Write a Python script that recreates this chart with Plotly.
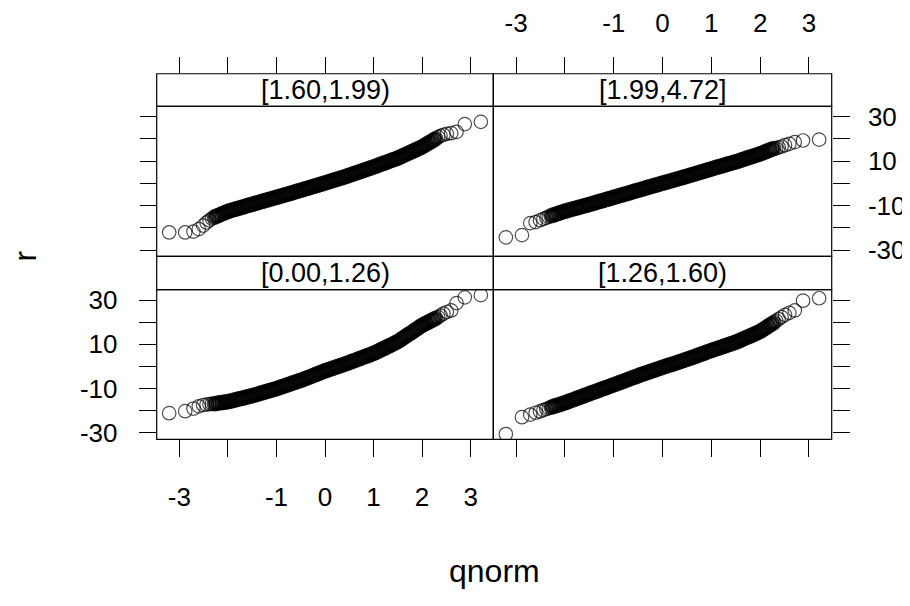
import plotly.graph_objects as go

# ---------------- data ----------------
# theoretical normal quantiles (shared by all four panels)
qnorm = [-3.21, -2.88, -2.71, -2.60, -2.51, -2.44, -2.38, -2.33,
         -2.28, -2.24, -2.2, -2.16, -2.12, -2.08, -2.04, -2.0, -1.96, -1.92, -1.88, -1.84, -1.8,
         -1.76, -1.72, -1.68, -1.64, -1.6, -1.56, -1.52, -1.48, -1.44, -1.4, -1.36, -1.32, -1.28,
         -1.24, -1.2, -1.16, -1.12, -1.08, -1.04, -1.0, -0.96, -0.92, -0.88, -0.84, -0.8, -0.76,
         -0.72, -0.68, -0.64, -0.6, -0.56, -0.52, -0.48, -0.44, -0.4, -0.36, -0.32, -0.28, -0.24,
         -0.2, -0.16, -0.12, -0.08, -0.04, 0.0, 0.04, 0.08, 0.12, 0.16, 0.2, 0.24, 0.28, 0.32,
         0.36, 0.4, 0.44, 0.48, 0.52, 0.56, 0.6, 0.64, 0.68, 0.72, 0.76, 0.8, 0.84, 0.88, 0.92,
         0.96, 1.0, 1.04, 1.08, 1.12, 1.16, 1.2, 1.24, 1.28, 1.32, 1.36, 1.4, 1.44, 1.48, 1.52,
         1.56, 1.6, 1.64, 1.68, 1.72, 1.76, 1.8, 1.84, 1.88, 1.92, 1.96, 2.0, 2.04, 2.08, 2.12,
         2.16, 2.2, 2.24, 2.28,
         2.33, 2.38, 2.44, 2.51, 2.60, 2.71, 2.88, 3.21]

strip_labels = ["[0.00,1.26)", "[1.26,1.60)", "[1.60,1.99)", "[1.99,4.72]"]

r_000_126 = [-21.1, -20.2, -19.0, -18.0, -17.4, -17.2, -17.0, -16.9,
             -16.8, -16.7, -16.5, -16.4, -16.3, -16.2, -16.0, -15.9,
             -15.7, -15.5, -15.3, -15.0, -14.8, -14.6, -14.4, -14.2, -14.0, -13.7, -13.5, -13.3,
             -13.1, -12.8, -12.6, -12.3, -12.0, -11.8, -11.5, -11.3, -11.0, -10.8, -10.5, -10.3, -10.0,
             -9.7, -9.4, -9.1, -8.8, -8.5, -8.2, -7.9, -7.6, -7.3, -7.0, -6.7, -6.4,
             -6.1, -5.8, -5.4, -5.1, -4.8, -4.4, -4.1, -3.7, -3.4, -3.0, -2.7, -2.3, -2.0,
             -1.7, -1.4, -1.1, -0.8, -0.5, -0.2, 0.1, 0.4, 0.7, 1.0, 1.3, 1.6,
             2.0, 2.3, 2.6, 2.9, 3.3, 3.6, 3.9, 4.3, 4.6, 4.9, 5.2, 5.6, 5.9,
             6.3, 6.7, 7.2, 7.6, 8.0, 8.4, 8.9, 9.3, 9.7, 10.1, 10.6, 11.0,
             11.5, 12.1, 12.7, 13.3, 13.9, 14.5, 15.0, 15.6, 16.2, 16.8, 17.4, 18.0, 18.6,
             19.0, 19.5, 19.9, 20.4, 20.8, 21.3, 21.7,
             22.3, 23.0, 23.9, 24.6, 25.3, 28.6, 31.2, 32.2]

r_126_160 = [-30.5, -22.9, -21.7, -20.9, -20.3, -19.7, -19.2, -18.8,
             -18.4, -18.1, -17.8, -17.5, -17.3, -17.0, -16.7, -16.4,
             -16.1, -15.7, -15.4, -15.1, -14.8, -14.4, -14.1, -13.8, -13.5, -13.1, -12.8, -12.5,
             -12.1, -11.8, -11.5, -11.2, -10.9, -10.5, -10.2, -9.9, -9.6, -9.3, -8.9, -8.6, -8.3,
             -8.0, -7.6, -7.3, -7.0, -6.7, -6.3, -6.0, -5.7, -5.3, -5.0, -4.7, -4.4,
             -4.0, -3.7, -3.4, -3.1, -2.8, -2.5, -2.2, -1.9, -1.6, -1.3, -1.0, -0.7, -0.4,
             -0.1, 0.2, 0.5, 0.8, 1.0, 1.3, 1.6, 1.9, 2.2, 2.5, 2.8, 3.1,
             3.4, 3.7, 4.0, 4.3, 4.6, 5.0, 5.3, 5.6, 5.9, 6.2, 6.6, 6.9, 7.2,
             7.5, 7.8, 8.1, 8.4, 8.7, 9.0, 9.3, 9.6, 9.9, 10.2, 10.5, 10.8,
             11.1, 11.5, 11.9, 12.3, 12.7, 13.1, 13.4, 13.8, 14.2, 14.6, 15.0, 15.4, 15.8,
             16.4, 16.9, 17.5, 18.1, 18.7, 19.2, 19.8,
             20.6, 21.4, 22.3, 23.3, 24.2, 25.3, 29.7, 30.8]

r_160_199 = [-22.1, -22.1, -21.7, -20.6, -19.0, -17.6, -16.6, -15.8,
             -15.2, -14.8, -14.5, -14.1, -13.7, -13.3, -13.0, -12.6,
             -12.3, -12.1, -11.8, -11.6, -11.3, -11.1, -10.8, -10.6, -10.3, -10.0, -9.8, -9.5,
             -9.3, -9.0, -8.8, -8.5, -8.3, -8.0, -7.8, -7.5, -7.3, -7.0, -6.8, -6.5, -6.3,
             -6.0, -5.8, -5.5, -5.3, -5.0, -4.8, -4.5, -4.3, -4.0, -3.7, -3.5, -3.2,
             -3.0, -2.7, -2.4, -2.2, -1.9, -1.6, -1.4, -1.1, -0.9, -0.6, -0.3, -0.1, 0.2,
             0.5, 0.7, 1.0, 1.3, 1.6, 1.8, 2.1, 2.4, 2.6, 2.9, 3.2, 3.5,
             3.8, 4.1, 4.4, 4.7, 5.0, 5.3, 5.6, 5.9, 6.2, 6.5, 6.8, 7.1, 7.4,
             7.7, 8.0, 8.4, 8.7, 9.0, 9.3, 9.6, 10.0, 10.3, 10.6, 10.9, 11.2,
             11.6, 12.0, 12.4, 12.8, 13.2, 13.6, 14.0, 14.4, 14.8, 15.2, 15.6, 16.0, 16.4,
             16.9, 17.5, 18.0, 18.5, 19.0, 19.6, 20.1,
             20.8, 21.4, 21.9, 22.3, 22.6, 23.2, 26.7, 27.7]

r_199_472 = [-24.3, -23.3, -17.9, -17.4, -16.6, -16.0, -15.5, -15.0,
             -14.6, -14.3, -14.0, -13.7, -13.4, -13.1, -12.8, -12.5,
             -12.3, -12.0, -11.8, -11.5, -11.3, -11.1, -10.8, -10.6, -10.3, -10.1, -9.9, -9.6,
             -9.4, -9.1, -8.9, -8.6, -8.3, -8.1, -7.8, -7.6, -7.3, -7.1, -6.8, -6.6, -6.3,
             -6.0, -5.8, -5.5, -5.3, -5.0, -4.8, -4.5, -4.3, -4.0, -3.7, -3.5, -3.2,
             -3.0, -2.7, -2.5, -2.2, -1.9, -1.7, -1.4, -1.2, -0.9, -0.7, -0.4, -0.2, 0.1,
             0.3, 0.6, 0.8, 1.1, 1.3, 1.6, 1.8, 2.1, 2.3, 2.6, 2.8, 3.1,
             3.3, 3.6, 3.9, 4.1, 4.4, 4.7, 4.9, 5.2, 5.4, 5.7, 6.0, 6.2, 6.5,
             6.8, 7.0, 7.3, 7.5, 7.8, 8.0, 8.3, 8.6, 8.8, 9.1, 9.3, 9.6,
             9.8, 10.1, 10.4, 10.7, 11.0, 11.3, 11.6, 11.9, 12.1, 12.4, 12.7, 13.0, 13.3,
             13.6, 14.0, 14.3, 14.7, 15.0, 15.4, 15.7,
             15.8, 16.2, 16.6, 17.2, 17.8, 18.6, 19.3, 19.7]

x_ticks = [-3, -2, -1, 0, 1, 2, 3]
x_tick_labels = ["-3", "", "-1", "0", "1", "2", "3"]
y_ticks = [-30, -20, -10, 0, 10, 20, 30]
y_tick_labels = ["-30", "", "-10", "", "10", "", "30"]

x_title = "qnorm"
y_title = "r"

# ---------------- layout geometry ----------------
# the page body adds an 8px margin, so the figure is sized to fill the rest of the window
OFF = 8
FW, FH = 902, 598


def fx(p):
    return (p - OFF) / FW


def fy(p):
    return 1 - (p - OFF) / FH


XL = [fx(156.7), fx(493.3)]
XR = [fx(493.3), fx(831.7)]
YT = [fy(256.7), fy(102.7)]
YB = [fy(444.3), fy(290.7)]
ST = [fy(102.7), fy(69.3)]
SB = [fy(290.7), fy(256.7)]
XRANGE = [-3.467, 3.467]
YRANGE = [-32.9, 34.7]

FONT = "Liberation Sans, Arial, Helvetica, sans-serif"
TICKSIZE = 26

panels = [
    (r_000_126, strip_labels[0], "x", "y", XL, YB, SB),
    (r_126_160, strip_labels[1], "x2", "y2", XR, YB, SB),
    (r_160_199, strip_labels[2], "x3", "y3", XL, YT, ST),
    (r_199_472, strip_labels[3], "x4", "y4", XR, YT, ST),
]

# heavily over-plotted middle of each Q-Q line drawn with a heavier ring,
# isolated tail points with a thin ring
ring_w = [1.2 if abs(q) > 2.3 else 3.3 for q in qnorm]
ring_s = [13.5 if abs(q) > 2.3 else 12.3 for q in qnorm]

fig = go.Figure()
for vals, lab, xa, ya, xd, yd, sd in panels:
    fig.add_trace(go.Scatter(
        x=qnorm, y=vals, xaxis=xa, yaxis=ya, mode="markers",
        marker=dict(symbol="circle-open", size=ring_s, color="black",
                    line=dict(width=ring_w, color="black")),
        showlegend=False, hoverinfo="skip"))

common_x = dict(range=XRANGE, tickvals=x_ticks, ticktext=x_tick_labels,
                ticks="outside", ticklen=17, tickwidth=1, tickcolor="black",
                showgrid=False, zeroline=False, showline=False,
                tickfont=dict(family=FONT, size=TICKSIZE, color="black"))
common_y = dict(range=YRANGE, tickvals=y_ticks, ticktext=y_tick_labels,
                ticks="outside", ticklen=17, tickwidth=1, tickcolor="black",
                showgrid=False, zeroline=False, showline=False,
                tickfont=dict(family=FONT, size=TICKSIZE, color="black"))

fig.update_layout(
    width=FW, height=FH, margin=dict(l=0, r=0, t=0, b=0),
    paper_bgcolor="white", plot_bgcolor="white",
    font=dict(family=FONT, color="black"),
    xaxis=dict(domain=XL, anchor="y", side="bottom", ticklabelstandoff=17, **common_x),
    xaxis2=dict(domain=XR, anchor="y2", side="bottom", showticklabels=False, **common_x),
    xaxis3=dict(domain=XL, anchor="free", position=ST[1], side="top", showticklabels=False, **common_x),
    xaxis4=dict(domain=XR, anchor="free", position=ST[1], side="top", ticklabelstandoff=14, **common_x),
    yaxis=dict(domain=YB, anchor="x", side="left", ticklabelstandoff=16, **common_y),
    yaxis2=dict(domain=YB, anchor="free", position=XR[1], side="right", showticklabels=False, **common_y),
    yaxis3=dict(domain=YT, anchor="free", position=XL[0], side="left", showticklabels=False, **common_y),
    yaxis4=dict(domain=YT, anchor="free", position=XR[1], side="right", ticklabelstandoff=13, **common_y),
)

shapes = []
annotations = []
for vals, lab, xa, ya, xd, yd, sd in panels:
    for box in (yd, sd):
        shapes.append(dict(type="rect", xref="paper", yref="paper", x0=xd[0], x1=xd[1],
                           y0=box[0], y1=box[1], line=dict(color="black", width=1.2)))
    annotations.append(dict(text=lab, xref="paper", yref="paper", x=(xd[0] + xd[1]) / 2,
                            y=(sd[0] + sd[1]) / 2, showarrow=False, xanchor="center",
                            yanchor="middle", font=dict(family=FONT, size=27, color="black")))

annotations.append(dict(text=x_title, xref="paper", yref="paper", x=(XL[0] + XR[1]) / 2,
                        y=fy(579), showarrow=False, xanchor="center", yanchor="middle",
                        font=dict(family=FONT, size=32, color="black")))
annotations.append(dict(text=y_title, xref="paper", yref="paper", x=fx(25),
                        y=(YB[0] + ST[1]) / 2, showarrow=False, xanchor="center", yanchor="middle",
                        textangle=-90, font=dict(family=FONT, size=32, color="black")))

fig.update_layout(shapes=shapes, annotations=annotations)
fig.write_html("out.html")
